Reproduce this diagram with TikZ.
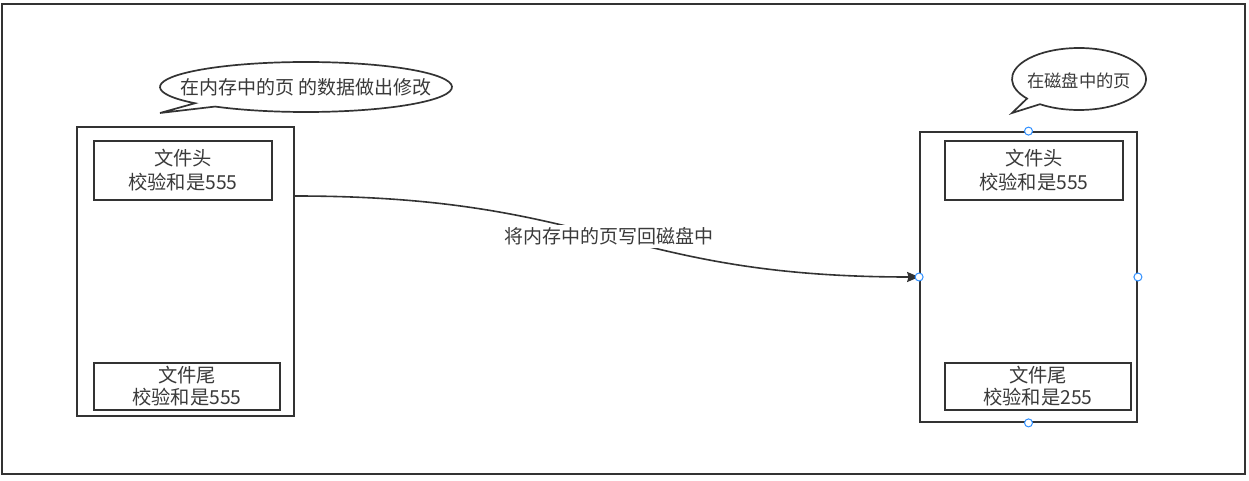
\documentclass[tikz,border=0pt]{standalone}
\usepackage{fontspec}
\setmainfont{Noto Sans CJK SC}
\usetikzlibrary{arrows.meta,calc}
\definecolor{ln}{HTML}{333333}
\definecolor{tx}{HTML}{3A3A3A}
\definecolor{hb}{HTML}{2F8FFF}
\tikzset{
  page/.style={draw=ln, line width=1.8pt, minimum width=217pt, minimum height=290pt, inner sep=0pt},
  part/.style={draw=ln, line width=1.7pt, inner sep=0pt, align=center, text=tx, font=\fontsize{19.3}{24}\selectfont},
  bubble/.style={draw=ln, line width=1.7pt, fill=white},
  handle/.style={draw=hb, fill=white, line width=1pt},
  btext/.style={text=tx, inner sep=0pt},
}
\begin{document}
\begin{tikzpicture}[x=1pt,y=-1pt]
\useasboundingbox (0,0) rectangle (1249,481);
\fill[white] (0,0) rectangle (1249,481);
\draw[ln, line width=2pt] (2,4) rectangle (1245,474);

% left page
\node[page, minimum height=289pt] (lp) at (185.5,271.5) {};
\node[part, minimum width=178pt, minimum height=59pt] (lh) at (183,170.5) {文件头\\校验和是555};
\node[part, minimum width=186pt, minimum height=47pt, font=\fontsize{19.3}{22}\selectfont] (lf) at (187,386.5) {文件尾\\校验和是555};

% right page
\node[page] (rp) at (1028.5,277) {};
\node[part, minimum width=178pt, minimum height=59pt] (rh) at (1034,170.5) {文件头\\校验和是555};
\node[part, minimum width=186pt, minimum height=47pt, font=\fontsize{19.3}{22}\selectfont] (rf) at (1038,386.5) {文件尾\\校验和是255};

% callouts
\draw[bubble] (160,113) -- ($(306,87)+(128.5:146 and 25)$) arc[start angle=128.5, end angle=-220.5, x radius=146, y radius=25] -- cycle;
\node[btext, font=\fontsize{19}{22}\selectfont] (lc) at (306,87) {在内存中的页 的数据做出修改};

\draw[bubble] (1012,113) -- ($(1079,79)+(125.6:67 and 31)$) arc[start angle=125.6, end angle=-219.1, x radius=67, y radius=31] -- cycle;
\node[btext, font=\fontsize{17.3}{20}\selectfont] (rc) at (1079,81) {在磁盘中的页};

% connector
\coordinate (s) at (lp.east |- 0,196);
\draw[ln, line width=1.6pt, -{Stealth[length=12pt, width=10pt, inset=1.5pt]}] (s) .. controls (600,196) and (620,277) .. (rp.west)
  node[pos=0.5, fill=white, text=tx, inner sep=3pt, font=\fontsize{19}{22}\selectfont] (lab) {将内存中的页写回磁盘中};

% handles
\foreach \a in {north,south,east,west} \draw[handle] (rp.\a) circle[radius=4pt];
\end{tikzpicture}
\end{document}
